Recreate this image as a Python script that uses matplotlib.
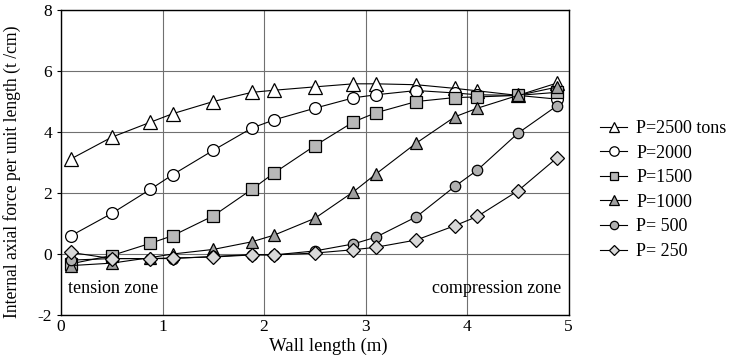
import matplotlib
matplotlib.use('Agg')
import matplotlib.pyplot as plt

matplotlib.rcParams['font.family'] = 'Liberation Serif'
matplotlib.rcParams['font.size'] = 12
matplotlib.rcParams['axes.unicode_minus'] = False

# positions along the wall (m)
x = [0.1, 0.5, 0.88, 1.1, 1.5, 1.88, 2.1, 2.5, 2.88, 3.1, 3.5, 3.88, 4.1, 4.5, 4.88]

# internal axial force (t/cm) for each load level
p2500 = [3.12, 3.83, 4.32, 4.6, 5.0, 5.3, 5.37, 5.48, 5.58, 5.58, 5.55, 5.43, 5.35, 5.2, 5.6]
p2000 = [0.6, 1.33, 2.12, 2.6, 3.4, 4.13, 4.4, 4.78, 5.12, 5.22, 5.36, 5.28, 5.22, 5.2, 5.08]
p1500 = [-0.32, -0.05, 0.35, 0.6, 1.25, 2.12, 2.66, 3.55, 4.33, 4.63, 5.0, 5.13, 5.15, 5.2, 5.3]
p1000 = [-0.38, -0.3, -0.12, 0.0, 0.15, 0.4, 0.62, 1.17, 2.04, 2.62, 3.64, 4.5, 4.78, 5.2, 5.47]
p500 = [-0.2, -0.15, -0.15, -0.15, -0.08, -0.02, -0.03, 0.1, 0.33, 0.55, 1.22, 2.22, 2.75, 3.96, 4.85]
p250 = [0.05, -0.15, -0.15, -0.13, -0.1, -0.03, -0.03, 0.03, 0.14, 0.22, 0.46, 0.93, 1.23, 2.07, 3.14]

labels = ['P=2500 tons', 'P=2000', 'P=1500', 'P=1000', 'P= 500', 'P= 250']
series = [p2500, p2000, p1500, p1000, p500, p250]
markers = ['^', 'o', 's', '^', 'o', 'D']
faces = ['white', 'white', '#b8b8b8', '#a0a0a0', '#b0b0b0', '#d8d8d8']
sizes = [9.5, 8.5, 8, 8.5, 7.5, 7]

fig = plt.figure(figsize=(7.31, 3.59), dpi=100)
ax = fig.add_axes([0.0834, 0.1226, 0.6946, 0.8495])

for y, lab, m, fc, ms in zip(series, labels, markers, faces, sizes):
    ax.plot(x, y, color='black', lw=0.8, marker=m, markersize=ms,
            markerfacecolor=fc, markeredgecolor='black', markeredgewidth=0.9,
            label=lab)

ax.set_xlim(0, 5)
ax.set_ylim(-2, 8)
ax.set_xticks([0, 1, 2, 3, 4, 5])
ax.set_yticks([-2, 0, 2, 4, 6, 8])
ax.grid(True, color='#707070', lw=0.8)
ax.tick_params(axis='x', length=0, pad=3, labelsize=12.5)
ax.tick_params(axis='y', length=3, direction='out', labelsize=12.5)
for s in ax.spines.values():
    s.set_linewidth(1.0)

ax.set_xlabel('Wall length (m)', fontsize=13.5, labelpad=0)
ax.xaxis.set_label_coords(0.527, -0.076)
ax.set_ylabel('Internal axial force per unit length (t /cm)', fontsize=12.7, labelpad=4)
ax.yaxis.set_label_coords(-0.078, 0.47)

ax.text(0.07, -1.28, 'tension zone', fontsize=13)
ax.text(4.93, -1.28, 'compression zone', fontsize=13, ha='right')

ax.legend(loc='center left', bbox_to_anchor=(1.03, 0.41), frameon=False,
          handlelength=1.5, handletextpad=0.5, labelspacing=0.42, fontsize=13,
          markerscale=0.8)

fig.savefig('out.png', dpi=100)
